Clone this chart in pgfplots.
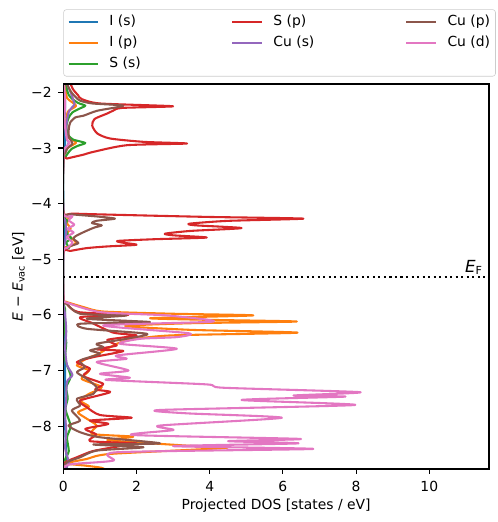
\documentclass[border=0pt]{standalone}
\usepackage{fontspec}
\setmainfont{DejaVu Sans}
\usepackage{pgfplots}
\pgfplotsset{compat=1.18}
\definecolor{cIs}{HTML}{1F77B4}
\definecolor{cIp}{HTML}{FF7F0E}
\definecolor{cSs}{HTML}{2CA02C}
\definecolor{cSp}{HTML}{D62728}
\definecolor{cCus}{HTML}{9467BD}
\definecolor{cCup}{HTML}{8C564B}
\definecolor{cCud}{HTML}{E377C2}
\begin{document}
\begin{tikzpicture}
\begin{axis}[
  name=ax,
  scale only axis, width=306.5pt, height=277.2pt,
  xmin=0, xmax=11.63, ymin=-8.77, ymax=-1.85,
  xtick={0,2,4,6,8,10},
  ytick={-8,-7,-6,-5,-4,-3,-2},
  yticklabels={−8,−7,−6,−5,−4,−3,−2},
  /pgf/number format/assume math mode=true,
  xticklabel style={yshift=-1.6pt},
  yticklabel style={xshift=-1.4pt},
  tick align=outside, major tick length=3.5pt,
  every tick/.style={black, line width=0.8pt},
  axis line style={line width=0.8pt},
  tick pos=left,
  axis on top,
  xlabel={Projected DOS [states / eV]},
  ylabel={{\itshape E} − {\itshape E}\textsubscript{vac} [eV]},
  every axis x label/.style={at={(axis description cs:0.5,-0.1064)}, anchor=base},
  every axis y label/.style={at={(axis description cs:-0.1054,0.5)}, rotate=90, anchor=center},
  legend columns=3,
  legend cell align=left,
  legend image code/.code={\draw[#1] (0pt,0pt) -- (21.17pt,0pt);},
  legend style={at={(axis description cs:0,1.194)}, anchor=north west,
    draw=black!20, rounded corners=2pt, fill=white,
    inner xsep=2.88pt, inner ysep=4.25pt, column sep=0pt, row sep=5.5pt,
    nodes={inner sep=0pt, text height=7.3pt, text depth=2.2pt}},
  every axis plot/.append style={line width=1.5pt, line join=round},
]
% ---------------- I (s)
\addplot[cIs, smooth, tension=0.4, forget plot] coordinates {
(0.03,-1.85) (0.05,-2.25) (0.02,-2.6) (0.05,-2.9) (0,-3.2) (0,-4.15) (0.03,-4.3) (0.02,-4.6) (0,-4.9)
(0,-5.72) (0.03,-6.0) (0.02,-6.5) (0.05,-7.0) (0.03,-7.5) (0.05,-8.0) (0.08,-8.5) (0.12,-8.68) (0.05,-8.77)};
% ---------------- I (p)
\addplot[cIp, smooth, tension=0.4, forget plot] coordinates {
(0.05,-1.85) (0.1,-2.1) (0.35,-2.24) (0.12,-2.35) (0.08,-2.6) (0.12,-2.8) (0.35,-2.9) (0.12,-3.0) (0,-3.15)
(0,-4.17) (0.15,-4.25) (0.1,-4.35) (0.2,-4.45) (0.1,-4.55) (0.35,-4.7) (0.15,-4.78) (0,-4.85)
(0,-5.72) (0.05,-5.76) (0.55,-5.86) (1.09,-5.94) (3.0,-5.98) (5.19,-6.01) (2.37,-6.06) (4,-6.09) (6.38,-6.12)
(3.5,-6.15) (1.69,-6.2) (3.5,-6.27) (6.4,-6.32) (2.92,-6.37) (1.73,-6.46) (1.28,-6.58) (0.96,-6.7) (0.6,-6.8)
(0.37,-6.91) (0.7,-7.0) (0.5,-7.15) (1.05,-7.3) (0.7,-7.42) (0.46,-7.54) (0.7,-7.65) (0.4,-7.75) (0.6,-7.85)
(0.91,-7.99) (0.78,-8.14) (1.91,-8.19) (1.2,-8.25) (2.2,-8.3) (3.37,-8.35) (4.46,-8.39) (1.28,-8.5) (0.64,-8.59)
(0.09,-8.67) (0.6,-8.71) (1.05,-8.75) (1.2,-8.8)};
% ---------------- S (s)
\addplot[cSs, smooth, tension=0.4, forget plot] coordinates {
(0.08,-1.85) (0.1,-1.95) (0.15,-2.05) (0.25,-2.12) (0.4,-2.19) (0.6,-2.24) (0.45,-2.29) (0.25,-2.36)
(0.15,-2.45) (0.1,-2.55) (0.08,-2.62) (0.1,-2.7) (0.15,-2.78) (0.27,-2.85) (0.6,-2.91) (0.4,-2.96)
(0.22,-3.02) (0.12,-3.1) (0.05,-3.17) (0,-3.22)
(0,-4.18) (0.1,-4.3) (0.05,-4.4) (0.12,-4.55) (0.22,-4.62) (0.08,-4.7) (0.15,-4.8) (0,-4.86)
(0,-5.74) (0.05,-5.9) (0.03,-6.2) (0.08,-6.5) (0.05,-6.8) (0.2,-7.1) (0.08,-7.3) (0.12,-7.5) (0.06,-7.7)
(0.2,-8.0) (0.1,-8.2) (0.15,-8.45) (0.05,-8.6) (0.1,-8.77)};
% ---------------- S (p)
\addplot[cSp, smooth, tension=0.4, forget plot] coordinates {
(0.2,-1.85) (0.27,-1.95) (0.4,-2.05) (0.5,-2.12) (1.0,-2.2) (3.0,-2.25) (1.6,-2.28) (1.36,-2.33)
(1.2,-2.38) (0.85,-2.48) (0.79,-2.6) (0.93,-2.74) (1.28,-2.83) (2.2,-2.89) (3.38,-2.92) (1.74,-2.95)
(0.82,-3.07) (0.55,-3.12) (0.1,-3.19) (0,-3.22)
(0,-4.15) (0.3,-4.18) (2,-4.21) (4,-4.24) (6.56,-4.27) (4.5,-4.31) (3.46,-4.36) (3.6,-4.39) (4.87,-4.44)
(3.5,-4.49) (2.78,-4.54) (3.0,-4.57) (3.92,-4.61) (2.5,-4.64) (1.5,-4.67) (1.6,-4.70) (2.0,-4.74)
(1.2,-4.77) (0.64,-4.8) (0.2,-4.85) (0,-4.88)
(0,-5.72) (0.09,-5.8) (0.41,-5.95) (1.78,-6.0) (0.46,-6.04) (0.8,-6.15) (1.37,-6.32) (2.0,-6.37)
(1.2,-6.45) (1.46,-6.55) (0.91,-6.62) (1.64,-6.65) (0.82,-6.76) (0.37,-6.85) (0.73,-6.97) (0.55,-7.1)
(1.09,-7.24) (0.87,-7.34) (1.28,-7.39) (0.46,-7.54) (0.64,-7.66) (1.0,-7.8) (1.87,-7.85) (0.73,-7.9)
(1.23,-7.96) (0.6,-8.05) (0.9,-8.15) (0.73,-8.27) (2.0,-8.31) (1.46,-8.37) (0.8,-8.45) (0.37,-8.56)
(0.05,-8.65) (0,-8.77)};
% ---------------- Cu (s)
\addplot[cCus, smooth, tension=0.4, forget plot] coordinates {
(0.1,-1.85) (0.2,-2.0) (0.28,-2.15) (0.3,-2.22) (0.15,-2.35) (0.08,-2.6) (0.1,-2.85) (0.15,-2.9)
(0.05,-3.05) (0,-3.15)
(0,-4.2) (0.05,-4.3) (0.08,-4.5) (0.05,-4.7) (0,-4.85)
(0,-5.75) (0.05,-6.0) (0.08,-6.3) (0.05,-6.6) (0.1,-6.9) (0.25,-7.08) (0.1,-7.2) (0.08,-7.5)
(0.05,-7.8) (0.08,-8.1) (0.05,-8.4) (0.15,-8.65) (0.05,-8.77)};
% ---------------- Cu (p)
\addplot[cCup, smooth, tension=0.4, forget plot] coordinates {
(0.1,-1.85) (0.2,-1.98) (0.3,-2.06) (0.46,-2.15) (0.8,-2.2) (1.64,-2.24) (0.93,-2.33) (0.55,-2.42)
(0.33,-2.45) (0.19,-2.54) (0.15,-2.65) (0.15,-2.8) (0.25,-2.92) (0.12,-3.0) (0.05,-3.1) (0,-3.2)
(0,-4.15) (0.2,-4.19) (0.9,-4.23) (1.41,-4.27) (0.9,-4.31) (0.78,-4.35) (1.05,-4.39) (0.85,-4.43)
(0.7,-4.47) (0.5,-4.53) (0.35,-4.58) (0.27,-4.63) (0.41,-4.71) (0.2,-4.76) (0.09,-4.81) (0,-4.86)
(0,-5.72) (0.09,-5.8) (0.46,-5.98) (1.73,-6.01) (0.64,-6.07) (2.37,-6.13) (0.46,-6.16) (0.64,-6.25)
(2.28,-6.34) (1.73,-6.43) (0.91,-6.52) (1.09,-6.58) (0.73,-6.64) (1.0,-6.70) (0.46,-6.82) (0.59,-6.94)
(0.37,-7.03) (0.64,-7.15) (0.91,-7.30) (0.82,-7.42) (0.37,-7.51) (0.46,-7.63) (0.23,-7.72) (0.46,-7.90)
(0.14,-7.99) (0.46,-8.11) (1.0,-8.20) (2.64,-8.31) (0.82,-8.33) (2.19,-8.38) (0.91,-8.44) (0.46,-8.56)
(0.09,-8.65) (0,-8.77)};
% ---------------- Cu (d)
\addplot[cCud, smooth, tension=0.4, forget plot] coordinates {
(0.02,-1.85) (0.05,-2.2) (0.03,-2.5) (0.1,-2.85) (0.18,-2.9) (0.05,-3.0) (0,-3.1)
(0,-4.17) (0.25,-4.22) (0.15,-4.3) (0.3,-4.38) (0.12,-4.45) (0.28,-4.52) (0.1,-4.6) (0.25,-4.7)
(0.1,-4.8) (0,-4.87)
(0,-5.72) (0.05,-5.77) (1.0,-5.95) (2.82,-6.01) (4.10,-6.12) (1.09,-6.19) (3.42,-6.33) (3.1,-6.40)
(2.1,-6.43) (1.55,-6.52) (3.1,-6.61) (1.46,-6.73) (1.73,-6.79) (0.91,-6.85) (1.78,-7.0) (1.0,-7.06)
(1.82,-7.13) (1.19,-7.17) (3.92,-7.25) (4.37,-7.31) (8.11,-7.39) (6.29,-7.45) (7.7,-7.47) (4.87,-7.53)
(7.97,-7.62) (2.64,-7.71) (3.37,-7.77) (5.97,-7.85) (2.64,-7.99) (3.01,-8.07) (1.91,-8.16) (6.47,-8.23)
(4.5,-8.27) (6.42,-8.31) (3.0,-8.36) (6.83,-8.41) (1.46,-8.47) (1.37,-8.62) (0.27,-8.68) (0.05,-8.72) (0,-8.77)};
% ---------------- Fermi level
\addplot[black, line width=1.5pt, dash pattern=on 1.5pt off 2.48pt, forget plot] coordinates {(0,-5.32) (11.63,-5.32)};
\node[anchor=base west, inner sep=0pt, font=\fontsize{12}{14}\selectfont] at (axis cs:10.97,-5.23) {{\itshape E}\textsubscript{F}};
% ---------------- legend (matplotlib column-wise order)
\addlegendimage{cIs, line width=1.5pt}\addlegendentry{\hspace*{7.42pt}\makebox[87.84pt][l]{I (s)}}
\addlegendimage{cSp, line width=1.5pt}\addlegendentry{\hspace*{7.63pt}\makebox[95.04pt][l]{S (p)}}
\addlegendimage{cCup, line width=1.5pt}\addlegendentry{\hspace*{7.63pt}\makebox[31.68pt][l]{Cu (p)}}
\addlegendimage{cIp, line width=1.5pt}\addlegendentry{\hspace*{7.42pt}\makebox[87.84pt][l]{I (p)}}
\addlegendimage{cCus, line width=1.5pt}\addlegendentry{\hspace*{7.63pt}\makebox[95.04pt][l]{Cu (s)}}
\addlegendimage{cCud, line width=1.5pt}\addlegendentry{\hspace*{7.63pt}\makebox[31.68pt][l]{Cu (d)}}
\addlegendimage{cSs, line width=1.5pt}\addlegendentry{\hspace*{7.42pt}\makebox[87.84pt][l]{S (s)}}
\end{axis}
\path[use as bounding box] ([xshift=-45.6pt,yshift=-38.2pt]ax.south west) rectangle ([xshift=6.5pt,yshift=60.5pt]ax.north east);
\end{tikzpicture}
\end{document}
